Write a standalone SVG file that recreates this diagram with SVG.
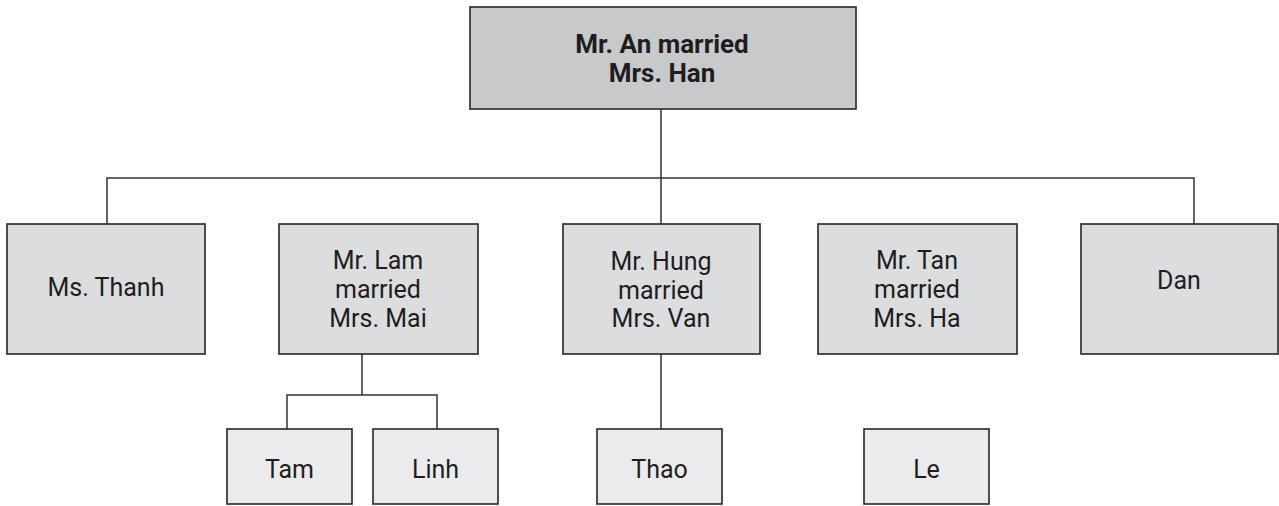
<svg xmlns="http://www.w3.org/2000/svg" width="1279" height="506" viewBox="0 0 1279 506">
<style>
  .box { stroke: #262626; stroke-width: 1.6; }
  .top { fill: #c8c9cb; }
  .mid { fill: #dcdddf; }
  .low { fill: #ebebed; }
  text { font-family: Roboto, "Liberation Sans", sans-serif; font-size: 25px; fill: #1e1e1e; text-anchor: middle; }
  .b { font-weight: 700; font-size: 26px; }
  .conn { fill: none; stroke: #333; stroke-width: 1.5; }
</style>
<rect width="1279" height="506" fill="#ffffff"/>
<g id="connectors">
  <path class="conn" d="M661 109 V224"/>
  <path class="conn" d="M107 224 V178 H1194 V224"/>
  <path class="conn" d="M362 354 V395"/>
  <path class="conn" d="M287 429 V395 H437 V429"/>
  <path class="conn" d="M661 354 V429"/>
</g>
<g id="an-han">
  <rect class="box top" x="470" y="7" width="386" height="102"/>
  <text class="b" x="662" y="53">Mr. An married</text>
  <text class="b" x="662" y="82">Mrs. Han</text>
</g>
<g id="thanh">
  <rect class="box mid" x="7" y="224" width="198" height="130"/>
  <text x="106" y="296">Ms. Thanh</text>
</g>
<g id="lam-mai">
  <rect class="box mid" x="279" y="224" width="199" height="130"/>
  <text x="378" y="269">Mr. Lam</text>
  <text x="378" y="298">married</text>
  <text x="378" y="327">Mrs. Mai</text>
</g>
<g id="hung-van">
  <rect class="box mid" x="563" y="224" width="197" height="130"/>
  <text x="661" y="270">Mr. Hung</text>
  <text x="661" y="299">married</text>
  <text x="661" y="327">Mrs. Van</text>
</g>
<g id="tan-ha">
  <rect class="box mid" x="818" y="224" width="199" height="130"/>
  <text x="917" y="269">Mr. Tan</text>
  <text x="917" y="298">married</text>
  <text x="917" y="327">Mrs. Ha</text>
</g>
<g id="dan">
  <rect class="box mid" x="1081" y="224" width="197" height="130"/>
  <text x="1179" y="289">Dan</text>
</g>
<g id="tam">
  <rect class="box low" x="227" y="429" width="125" height="75"/>
  <text x="289.5" y="478">Tam</text>
</g>
<g id="linh">
  <rect class="box low" x="373" y="429" width="125" height="75"/>
  <text x="435.5" y="478">Linh</text>
</g>
<g id="thao">
  <rect class="box low" x="597" y="429" width="125" height="75"/>
  <text x="659.5" y="478">Thao</text>
</g>
<g id="le">
  <rect class="box low" x="864" y="429" width="125" height="75"/>
  <text x="926.5" y="478">Le</text>
</g>
</svg>
